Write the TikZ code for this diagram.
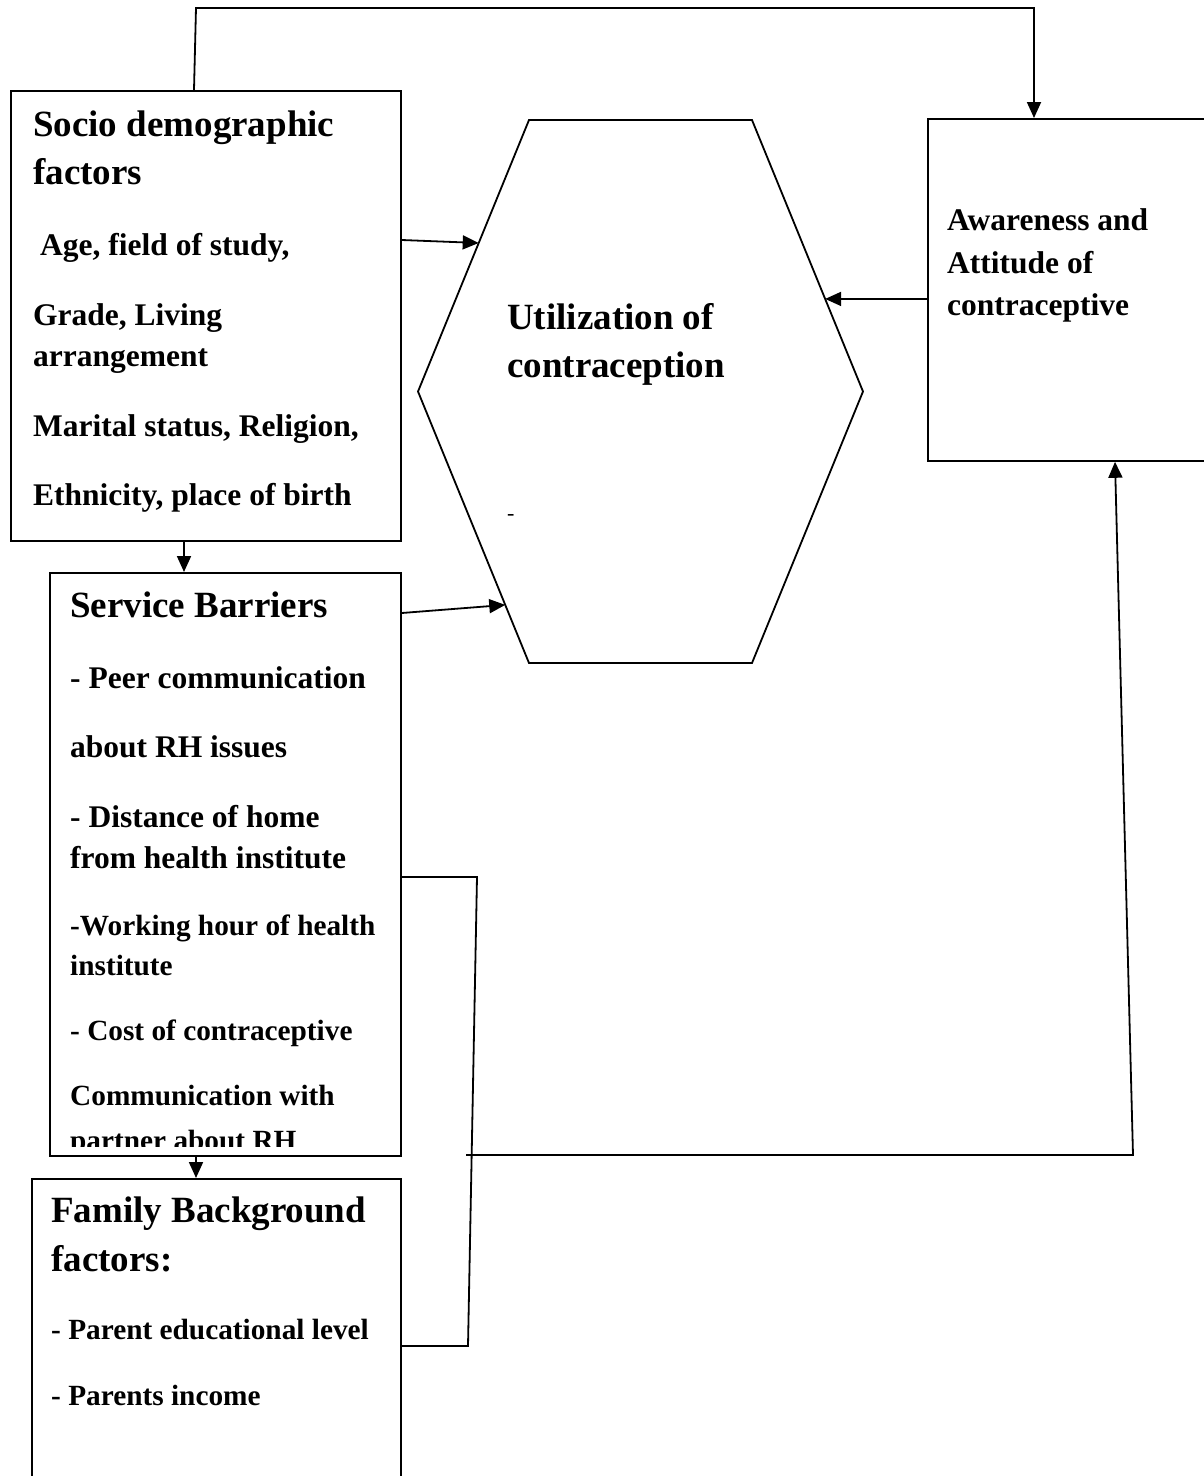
\documentclass[tikz,border=0pt]{standalone}
\usepackage{fontspec}
\setmainfont{Liberation Serif}
\usetikzlibrary{arrows.meta,calc}
\tikzset{
  box/.style={draw, line width=1.8pt, rectangle, inner sep=0pt, anchor=north west},
  conn/.style={line width=1.8pt},
  arr/.style={conn, -{Triangle[length=16pt,width=14pt]}},
  ttl/.style={anchor=base west, inner sep=0pt, font=\fontsize{37}{44}\selectfont\bfseries},
  bodytxt/.style={anchor=base west, inner sep=0pt, font=\fontsize{31.5}{38}\selectfont\bfseries},
  smalltxt/.style={anchor=base west, inner sep=0pt, font=\fontsize{29.3}{35}\selectfont\bfseries},
}
\begin{document}
\begin{tikzpicture}[x=1pt,y=-1pt]
\useasboundingbox (0,0) rectangle (1204,1476);
\clip (0,0) rectangle (1204,1476);
\fill[white] (0,0) rectangle (1204,1476);

% boxes
\node[box, minimum width=390, minimum height=450] (socio) at (10,90) {};
\node[box, minimum width=351, minimum height=583] (serv) at (49,572) {};
\node[box, minimum width=369, minimum height=340] (fam) at (31,1178) {};
\node[box, minimum width=290, minimum height=342] (aware) at (927,118) {};

% hexagon
\coordinate (hTL) at (529,120);
\coordinate (hTR) at (752,120);
\coordinate (hR) at (863,391.5);
\coordinate (hBR) at (752,663);
\coordinate (hBL) at (529,663);
\coordinate (hL) at (418,391.5);
\draw[conn] (hTL) -- (hTR) -- (hR) -- (hBR) -- (hBL) -- (hL) -- cycle;

% socio text
\node[ttl] (s1) at (33,136) {Socio demographic};
\node[ttl] (s2) at (33,184) {factors};
\node[bodytxt] (s3) at (40,255) {Age, field of study,};
\node[bodytxt] (s4) at (33,325) {Grade, Living};
\node[bodytxt] (s5) at (33,366) {arrangement};
\node[bodytxt] (s6) at (33,436) {Marital status, Religion,};
\node[bodytxt] (s7) at (33,505) {Ethnicity, place of birth};

% hexagon text
\node[ttl] (u1) at (507,329) {Utilization of};
\node[ttl] (u2) at (507,377) {contraception};
\node[anchor=base west, inner sep=0pt, font=\fontsize{22}{22}\selectfont] (u3) at (507,520) {-};

% awareness text
\node[bodytxt] (a1) at (947,230) {Awareness and};
\node[bodytxt] (a2) at (947,273) {Attitude of};
\node[bodytxt] (a3) at (947,315) {contraceptive};

% service text
\begin{scope}
\clip (serv.north west) rectangle (400,1146);
\node[ttl] (b1) at (70,617) {Service Barriers};
\node[bodytxt] (b2) at (70,688) {- Peer communication};
\node[bodytxt] (b3) at (70,757) {about RH issues};
\node[bodytxt] (b4) at (70,827) {- Distance of home};
\node[bodytxt] (b5) at (70,868) {from health institute};
\node[smalltxt] (b6) at (70,935) {-Working hour of health};
\node[smalltxt] (b7) at (70,975) {institute};
\node[smalltxt] (b8) at (70,1040) {- Cost of contraceptive};
\node[smalltxt] (b9) at (70,1105) {Communication with};
\node[smalltxt] (b10) at (70,1150) {partner about RH};
\end{scope}

% family text
\node[ttl] (f1) at (51,1222) {Family Background};
\node[ttl] (f2) at (51,1271) {factors:};
\node[smalltxt] (f3) at (51,1339) {- Parent educational level};
\node[smalltxt] (f4) at (51,1405) {- Parents income};

% connectors
\coordinate (tl) at (196,8);
\coordinate (tr) at (1034,8);
\draw[arr] ([xshift=184pt]socio.north west) -- (tl) -- (tr) -- (tr |- aware.north);

\draw[arr] ($(socio.north east)+(0,150)$) -- ($(hTL)!0.453!(hL)$);
\draw[arr] ($(aware.north west)+(0,181)$) -- ($(hTR)!0.659!(hR)$);
\draw[arr] ($(serv.north east)+(0,41)$) -- ($(hL)!0.786!(hBL)$);

\draw[arr] ($(socio.south west)+(174,0)$) -- ($(serv.north west)+(135,0)$);
\draw[arr] ($(serv.south west)+(147,0)$) -- ($(fam.north west)+(165,0)$);

\coordinate (c1) at (477,877);
\coordinate (c2) at (468,1346);
\draw[conn] ($(serv.north east)+(0,305)$) -- (c1) -- (c2) -- ($(fam.north east)+(0,168)$);

\coordinate (c3) at (466,1155);
\coordinate (c4) at (1133,1155);
\draw[arr] (c3) -- (c4) -- ($(aware.south west)+(188,0)$);
\end{tikzpicture}
\end{document}
